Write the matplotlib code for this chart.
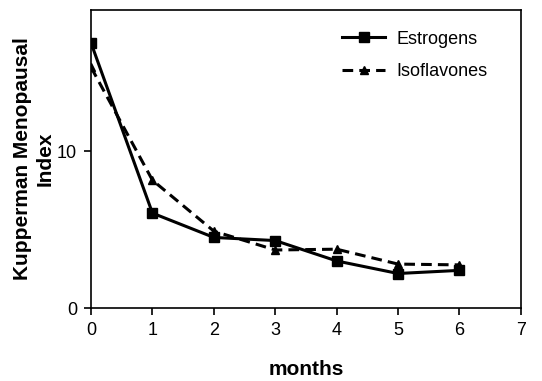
import matplotlib
matplotlib.use('Agg')
from matplotlib import pyplot as plt

months = [0, 1, 2, 3, 4, 5, 6]
estrogens = [16.9, 6.05, 4.5, 4.3, 3.0, 2.2, 2.4]
isoflavones = [15.35, 8.15, 4.9, 3.7, 3.75, 2.8, 2.75]

plt.rcParams['font.family'] = ['Liberation Sans', 'DejaVu Sans']

fig = plt.figure(figsize=(5.42, 3.81), dpi=100)
ax = fig.add_axes([0.168, 0.1916, 0.793, 0.782])

ax.plot(months, estrogens, color='black', linewidth=2.2, marker='s', markersize=7,
        label='Estrogens')
ax.plot(months, isoflavones, color='black', linewidth=2.2, linestyle=(0, (3.5, 2)),
        marker='^', markersize=6, label='Isoflavones')

ax.set_xlim(0, 7)
ax.set_ylim(0, 19)
ax.set_xticks(range(8))
ax.set_yticks([0, 10])
ax.tick_params(labelsize=13, length=5, width=1.2, direction='out', pad=5)
for s in ax.spines.values():
    s.set_linewidth(1.2)

ax.set_xlabel('months', fontsize=15, fontweight='bold', labelpad=15)
ax.set_ylabel('Kupperman Menopausal\nIndex', fontsize=15, fontweight='bold',
              labelpad=2, linespacing=1.2)

ax.legend(loc='upper right', frameon=False, fontsize=13, handlelength=2.4,
          handletextpad=0.6, bbox_to_anchor=(0.96, 0.985), labelspacing=0.85)

fig.savefig('out.png', dpi=100)
